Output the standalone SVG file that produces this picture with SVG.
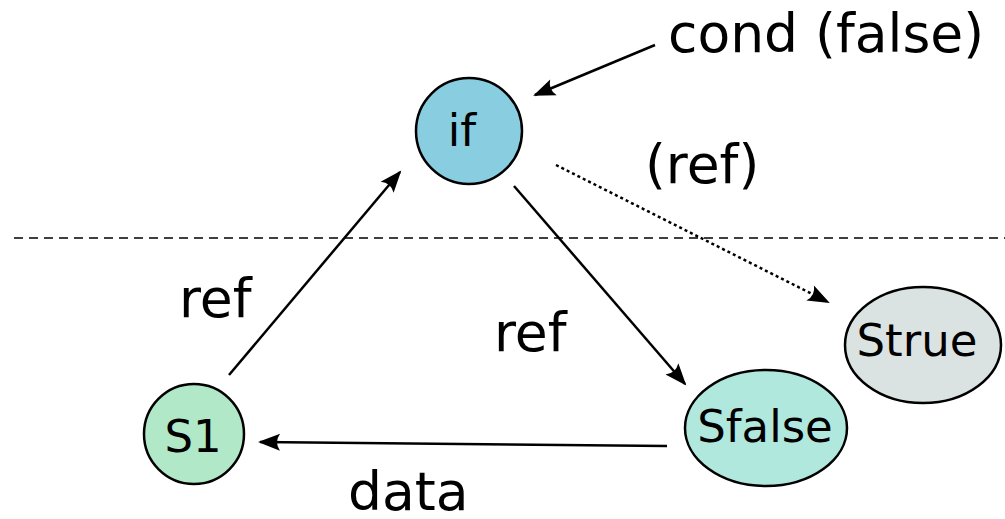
<svg xmlns="http://www.w3.org/2000/svg" width="1005" height="519" viewBox="0 0 1005 519">
<style>
text{font-family:"DejaVu Sans",sans-serif;fill:#000}
.lbl{font-size:53.5px}
.nd{font-size:45px;text-anchor:middle}
.node{stroke:#000;stroke-width:2.5}
.edge{stroke:#000;stroke-width:2.5;fill:none}
</style>
<defs>
<marker id="ah" viewBox="-2 -10 26 20" markerWidth="26" markerHeight="20" refX="20" refY="0" orient="auto" markerUnits="userSpaceOnUse">
<path d="M0,-8.5 L22,0 L0,8.5 Q6,0 0,-8.5 Z" fill="#000"/>
</marker>
</defs>
<rect width="1005" height="519" fill="#fff"/>
<line x1="14" y1="238" x2="1005" y2="238" stroke="#000" stroke-width="1.3" stroke-dasharray="9,6"/>
<g id="connectors">
<line class="edge" x1="655" y1="45" x2="535" y2="95" marker-end="url(#ah)"/>
<line class="edge" x1="229" y1="375" x2="400" y2="172" marker-end="url(#ah)"/>
<line class="edge" x1="514" y1="186" x2="685" y2="384" marker-end="url(#ah)"/>
<line class="edge" x1="667" y1="446" x2="260" y2="442" marker-end="url(#ah)"/>
<line class="edge" x1="556" y1="165" x2="828" y2="302" stroke-dasharray="3,3" marker-end="url(#ah)"/>
</g>
<g id="if"><circle class="node" cx="469" cy="131" r="53" fill="#89cde0"/><text class="nd" x="462" y="146">if</text></g>
<g id="S1"><circle class="node" cx="194" cy="434" r="50" fill="#b0e8c8"/><text class="nd" x="193" y="452">S1</text></g>
<g id="Sfalse"><ellipse class="node" cx="766" cy="428" rx="81" ry="58" fill="#b0e8dd"/><text class="nd" x="765" y="442">Sfalse</text></g>
<g id="Strue"><ellipse class="node" cx="923" cy="345" rx="78" ry="58" fill="#dbe3e2"/><text class="nd" x="917" y="356">Strue</text></g>
<g id="labels">
<text class="lbl" x="668" y="52">cond (false)</text>
<text class="lbl" x="645" y="183">(ref)</text>
<text class="lbl" x="179" y="317">ref</text>
<text class="lbl" x="494" y="351">ref</text>
<text class="lbl" x="348" y="510">data</text>
</g>
</svg>
